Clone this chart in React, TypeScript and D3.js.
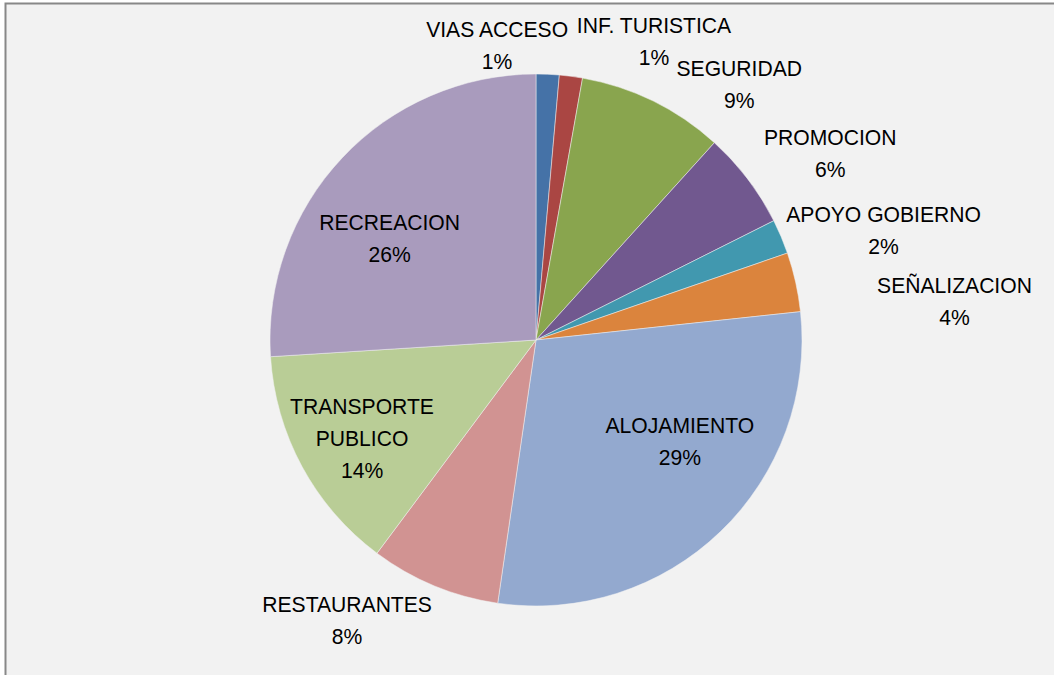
import { useRef, useEffect } from "react";
import * as d3 from "d3";

const categories = [
  "VIAS ACCESO",
  "INF. TURISTICA",
  "SEGURIDAD",
  "PROMOCION",
  "APOYO GOBIERNO",
  "SEÑALIZACION",
  "ALOJAMIENTO",
  "RESTAURANTES",
  "TRANSPORTE PUBLICO",
  "RECREACION",
];
const values = [1.4, 1.4, 8.9, 5.9, 2.1, 3.6, 29.0, 7.9, 13.8, 26.0];
const colors = [
  "#4572a7",
  "#aa4643",
  "#89a54e",
  "#71588f",
  "#4198af",
  "#db843d",
  "#93a9cf",
  "#d19392",
  "#b9cd96",
  "#a99bbd",
];
// how each category name is broken into lines
const labelLines = [
  ["VIAS ACCESO"],
  ["INF. TURISTICA"],
  ["SEGURIDAD"],
  ["PROMOCION"],
  ["APOYO GOBIERNO"],
  ["SEÑALIZACION"],
  ["ALOJAMIENTO"],
  ["RESTAURANTES"],
  ["TRANSPORTE", "PUBLICO"],
  ["RECREACION"],
];
// label placement: angle (deg, clockwise from top) and distance as fraction of radius
const labelAngle = [-7.5, 21.5, 38.4, 57.6, 72.5, 84.7, 125, 214, 240.7, 304.8];
const labelDist = [1.12, 1.21, 1.23, 1.31, 1.37, 1.58, 0.66, 1.27, 0.75, 0.67];

const W = 1054;
const H = 675;

export default function App() {
  const svgRef = useRef<SVGSVGElement | null>(null);

  useEffect(() => {
    const svg = d3.select(svgRef.current);
    svg.selectAll("*").remove();

    // chart area with frame
    svg
      .append("rect")
      .attr("x", 5.5)
      .attr("y", 3.5)
      .attr("width", W + 20)
      .attr("height", H + 20)
      .attr("fill", "#f2f2f2")
      .attr("stroke", "#888")
      .attr("stroke-width", 2);

    const cx = 536;
    const cy = 340;
    const r = 266;

    const total = d3.sum(values);
    const pie = d3
      .pie<number>()
      .sort(null)
      .value((d) => d);
    const arcs = pie(values);
    const arc = d3.arc<d3.PieArcDatum<number>>().innerRadius(0).outerRadius(r);

    const g = svg.append("g").attr("transform", `translate(${cx},${cy})`);
    g.selectAll("path")
      .data(arcs)
      .join("path")
      .attr("d", arc)
      .attr("fill", (_, i) => colors[i])
      .attr("stroke", "#f2f2f2")
      .attr("stroke-width", 0.5);

    const fmt = d3.format(".0%");
    const lineH = 32;
    const labels = g
      .selectAll("g.lbl")
      .data(arcs)
      .join("g")
      .attr("class", "lbl")
      .attr("transform", (_, i) => {
        const a = (labelAngle[i] * Math.PI) / 180;
        const d = labelDist[i] * r;
        return `translate(${d * Math.sin(a)},${-d * Math.cos(a)}) scale(0.96,1)`;
      });

    labels.each(function (d, i) {
      const lines = [...labelLines[i], fmt(d.value / total)];
      const n = lines.length;
      const sel = d3.select(this);
      lines.forEach((t, k) => {
        sel
          .append("text")
          .attr("text-anchor", "middle")
          .attr("y", (k - (n - 1) / 2) * lineH + 8)
          .attr("font-family", "'Liberation Sans Narrow', 'Arial Narrow', 'Liberation Sans', sans-serif")
          .attr("font-size", 22)
          .attr("fill", "#000")
          .text(t);
      });
    });
  }, []);

  return (
    <svg
      ref={svgRef}
      width={W}
      height={H}
      style={{ position: "absolute", left: 0, top: 0, background: "#fff" }}
    />
  );
}
